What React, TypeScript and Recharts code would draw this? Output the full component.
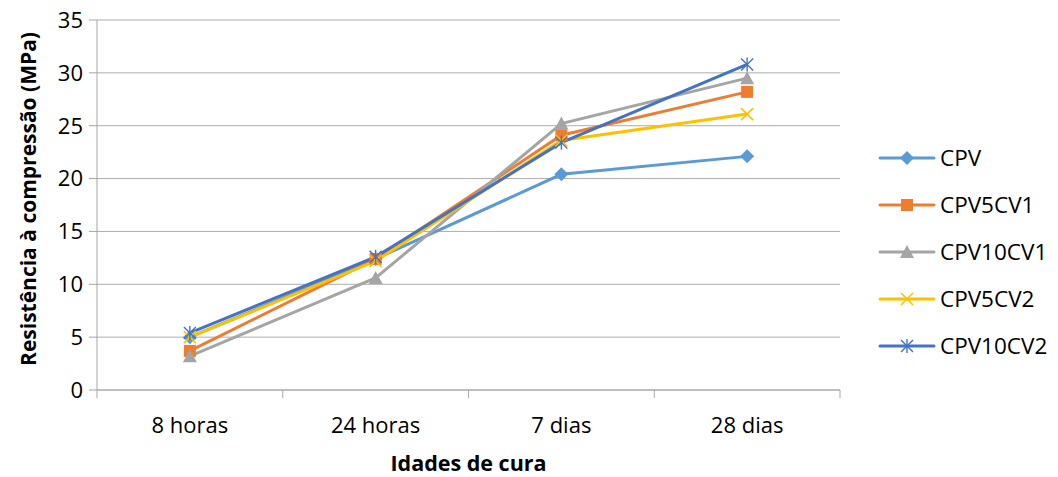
import React from 'react';
import { LineChart, Line, XAxis, YAxis, CartesianGrid } from 'recharts';

const categories = ['8 horas', '24 horas', '7 dias', '28 dias'];
const cpv = [5.0, 12.4, 20.4, 22.1];
const cpv5cv1 = [3.7, 12.4, 24.1, 28.2];
const cpv10cv1 = [3.2, 10.6, 25.2, 29.5];
const cpv5cv2 = [5.0, 12.2, 23.6, 26.1];
const cpv10cv2 = [5.4, 12.6, 23.4, 30.8];
const yTicks = [0, 5, 10, 15, 20, 25, 30, 35];

const series = [
  { key: 'CPV', values: cpv, color: '#5B9BD5', shape: 'diamond' },
  { key: 'CPV5CV1', values: cpv5cv1, color: '#ED7D31', shape: 'square' },
  { key: 'CPV10CV1', values: cpv10cv1, color: '#A5A5A5', shape: 'triangle' },
  { key: 'CPV5CV2', values: cpv5cv2, color: '#FFC000', shape: 'x' },
  { key: 'CPV10CV2', values: cpv10cv2, color: '#4472C4', shape: 'star' },
];

const data = categories.map((c, i) => {
  const row: any = { name: c };
  series.forEach((s) => (row[s.key] = s.values[i]));
  return row;
});

const FONT = '"Open Sans", sans-serif';
const GRID = '#ADADAD';
const AXIS = '#A6A6A6';

function marker(shape: string, cx: number, cy: number, color: string, key?: any) {
  switch (shape) {
    case 'diamond':
      return <path key={key} d={`M${cx},${cy - 7}L${cx + 7},${cy}L${cx},${cy + 7}L${cx - 7},${cy}Z`} fill={color} />;
    case 'square':
      return <rect key={key} x={cx - 6} y={cy - 6} width={12} height={12} fill={color} />;
    case 'triangle':
      return <path key={key} d={`M${cx},${cy - 7}L${cx + 7},${cy + 6}L${cx - 7},${cy + 6}Z`} fill={color} />;
    case 'x':
      return (
        <g key={key} stroke={color} strokeWidth={1.6}>
          <line x1={cx - 6} y1={cy - 6} x2={cx + 6} y2={cy + 6} />
          <line x1={cx - 6} y1={cy + 6} x2={cx + 6} y2={cy - 6} />
        </g>
      );
    default:
      return (
        <g key={key} stroke={color} strokeWidth={1.4}>
          <line x1={cx - 6} y1={cy - 6} x2={cx + 6} y2={cy + 6} />
          <line x1={cx - 6} y1={cy + 6} x2={cx + 6} y2={cy - 6} />
          <line x1={cx} y1={cy - 7} x2={cx} y2={cy + 7} />
        </g>
      );
  }
}

const TICK_SIZE = 8;
const TICK_MARGIN = 0;

const XTick = (props: any) => {
  const { x, y, payload, index, visibleTicksCount, width } = props;
  const axisY = y - TICK_SIZE - TICK_MARGIN;
  const half = width / visibleTicksCount / 2;
  return (
    <g>
      <line x1={x - half} y1={axisY} x2={x - half} y2={axisY + TICK_SIZE} stroke={AXIS} />
      {index === visibleTicksCount - 1 && (
        <line x1={x + half} y1={axisY} x2={x + half} y2={axisY + TICK_SIZE} stroke={AXIS} />
      )}
      <text x={x} y={axisY + 34} textAnchor="middle" dominantBaseline="central" fill="#000" fontSize={22} fontFamily={FONT}>
        {payload.value}
      </text>
    </g>
  );
};

export default function App() {
  return (
    <div style={{ position: 'absolute', left: 0, top: 0, width: 1058, height: 477, background: '#fff', fontFamily: FONT }}>
      <LineChart width={1058} height={477} data={data} margin={{ top: 20, right: 218, left: 0, bottom: 0 }}>
        <CartesianGrid vertical={false} stroke={GRID} strokeWidth={1} />
        <XAxis
          dataKey="name"
          scale="band"
          height={87}
          axisLine={{ stroke: AXIS }}
          tickLine={false}
          tickSize={TICK_SIZE}
          tickMargin={TICK_MARGIN}
          tick={<XTick />}
          interval={0}
          label={{
            content: (p: any) => {
              const vb = p.viewBox;
              return (
                <text x={vb.x + vb.width / 2} y={vb.y + 72} textAnchor="middle" dominantBaseline="central" fontWeight="bold" fontSize={21.5} fontFamily={FONT} fill="#000">
                  Idades de cura
                </text>
              );
            },
          }}
        />
        <YAxis
          width={97}
          domain={[0, 35]}
          ticks={yTicks}
          interval={0}
          axisLine={{ stroke: AXIS }}
          tickLine={{ stroke: AXIS }}
          tickSize={8}
          tickMargin={6}
          tick={{ fill: '#000', fontSize: 22, fontFamily: FONT }}
          label={{
            content: (p: any) => {
              const vb = p.viewBox;
              const cx = vb.x + 28;
              const cy = vb.y + vb.height / 2 - 6;
              return (
                <text x={cx} y={cy} transform={`rotate(-90, ${cx}, ${cy})`} textAnchor="middle" dominantBaseline="central" fontWeight="bold" fontSize={21} fontFamily={FONT} fill="#000">
                  Resistência à compressão (MPa)
                </text>
              );
            },
          }}
        />
        {series.map((s) => (
          <Line
            key={s.key}
            dataKey={s.key}
            stroke={s.color}
            strokeWidth={3}
            isAnimationActive={false}
            dot={(p: any) => marker(s.shape, p.cx, p.cy, s.color, p.index)}
            activeDot={false}
          />
        ))}
      </LineChart>
      <div style={{ position: 'absolute', left: 878, top: 134 }}>
        {series.map((s) => (
          <div key={s.key} style={{ display: 'flex', alignItems: 'center', height: 47 }}>
            <svg width={58} height={20} style={{ display: 'block' }}>
              <line x1={2} y1={10} x2={56} y2={10} stroke={s.color} strokeWidth={3} strokeLinecap="round" />
              {marker(s.shape, 29, 10, s.color)}
            </svg>
            <span style={{ fontSize: 22.5, marginLeft: 4, color: '#000', lineHeight: '20px' }}>{s.key}</span>
          </div>
        ))}
      </div>
    </div>
  );
}
